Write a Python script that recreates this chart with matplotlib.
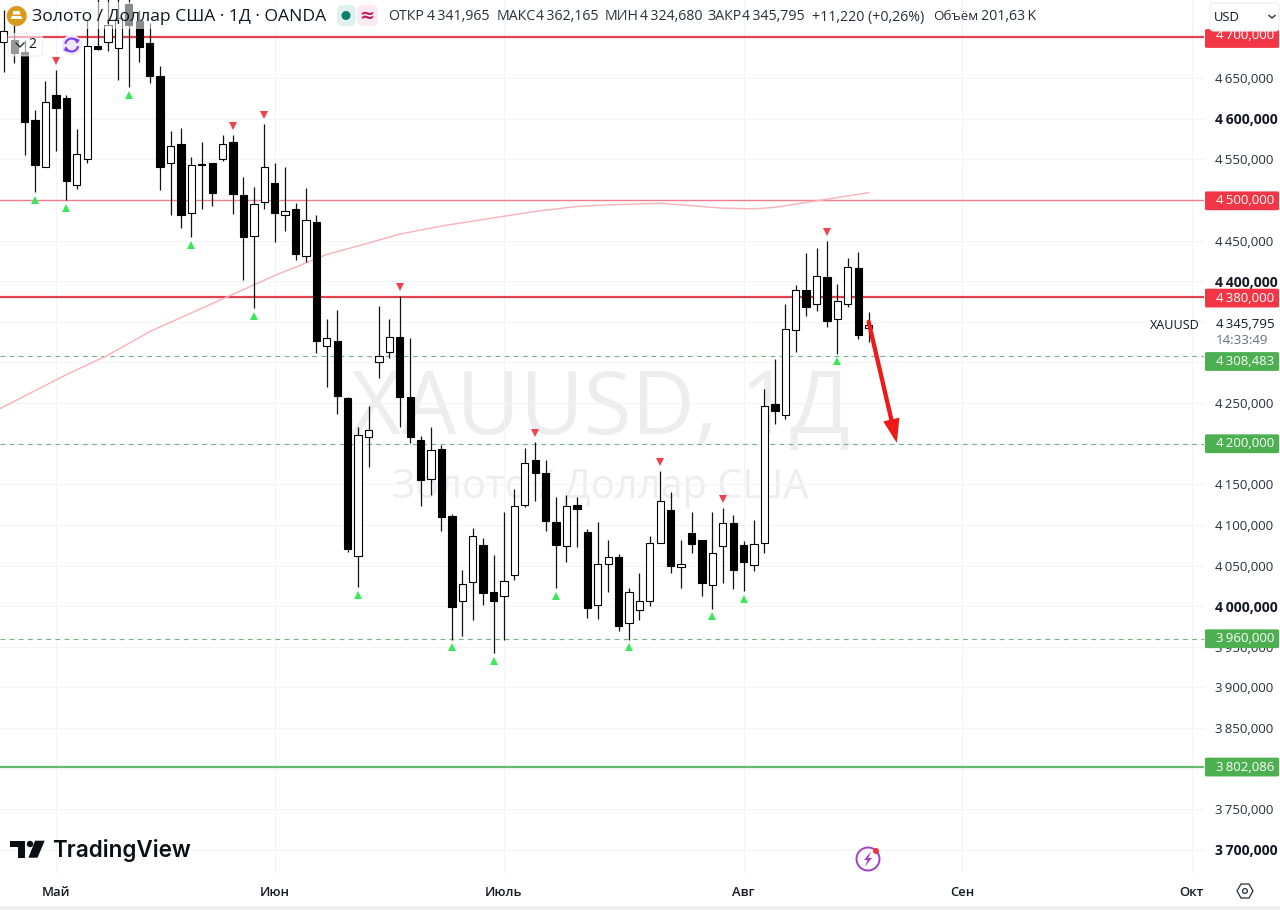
import matplotlib
matplotlib.use("Agg")
import matplotlib.pyplot as plt
from matplotlib.patches import Rectangle, FancyBboxPatch, Circle, Polygon, Arc, FancyArrowPatch
from matplotlib.transforms import ScaledTranslation

plt.rcParams['font.family'] = ['Open Sans', 'Noto Sans', 'DejaVu Sans']
plt.rcParams['lines.scale_dashes'] = False

# ---------- data ----------
opens = [4695,4697,4682,4598,4540,4629,4625,4519,4551,4689,4694,4687,4741,4720,4693,4653,4545,4569,4484,4544,
         4545,4550,4571,4506,4456,4497,4521,4482,4489,4431,4473,4320,4327,4256,4062,4208,4301,4313,4331,4257,
         4204,4156,4193,4111,4006,4030,4075,4018,4013,4039,4124,4180,4164,4104,4074,4125,4091,4001,4052,4061,
         3979,3995,4007,4078,4119,4048,4090,4081,4026,4074,4103,4075,4051,4078,4249,4235,4340,4389,4372,4405,
         4353,4372,4416,4341.965]
highs = [4734,4715,4697,4611,4647,4660,4629,4587,4722,4752,4752,4752,4752,4734,4718,4665,4585,4588,4553,4571,
         4545,4580,4580,4528,4516,4594,4546,4541,4496,4515,4482,4353,4364,4257,4220,4246,4370,4354,4382,4330,
         4210,4221,4199,4114,4044,4096,4084,4063,4116,4144,4195,4202,4180,4134,4137,4135,4095,4104,4082,4064,
         4023,4041,4087,4166,4141,4082,4116,4082,4116,4121,4112,4080,4106,4267,4304,4372,4395,4435,4441,4450,
         4396,4428,4436,4362.165]
lows = [4658,4669,4555,4510,4540,4560,4500,4513,4546,4685,4683,4648,4639,4670,4644,4512,4481,4465,4454,4489,
        4492,4548,4483,4402,4367,4489,4448,4462,4426,4424,4312,4270,4236,4067,4024,4171,4281,4306,4220,4201,
        4123,4137,4092,3959,3963,3983,4001,3942,3959,4032,4122,4129,4093,4022,4054,4073,3986,3984,4018,3970,
        3959,3983,4000,4078,4041,4022,4065,4012,3997,4029,4021,4019,4043,4065,4224,4230,4313,4357,4363,4344,
        4311,4368,4329,4324.680]
closes = [4708,4681,4596,4543,4621,4613,4523,4557,4690,4686,4715,4724,4715,4688,4652,4540,4566,4481,4543,4543,
          4509,4569,4507,4455,4495,4540,4484,4487,4433,4475,4327,4330,4259,4071,4211,4217,4308,4331,4257,4208,
          4155,4192,4110,3999,4027,4087,4016,4007,4031,4123,4176,4164,4105,4075,4123,4120,3998,4052,4060,3976,
          4017,4007,4078,4129,4049,4052,4076,4028,4066,4103,4044,4055,4076,4247,4240,4341,4389,4368,4407,4351,
          4376,4417,4334,4345.795]

ma_bars = [-1,6,10,14,22,26,31,35,38,42,48,51,55,58,63,66,69,72,74,78,83]
ma_vals = [4239,4285,4309,4338,4384,4407,4433,4447,4458,4468,4480,4486,4492,4494,4496,4493,4490,4489,4491,4499,4509]

pivot_low_bars = [3,6,12,18,24,34,43,47,53,60,68,71,80]
pivot_high_bars = [5,22,25,38,51,63,69,79]

arrow_from = (83, 4350)
arrow_to = (85.7, 4201)

price_ticks = list(range(3700, 4701, 50))
bold_ticks = [4600, 4400, 4000, 3700]
hidden_ticks = [4700, 4500, 4350, 4300, 4200, 3800]
month_bars = [5, 26, 48, 71, 92, 114]
month_labels = ['Май', 'Июн', 'Июль', 'Авг', 'Сен', 'Окт']

red_levels = [4700, 4500, 4380]
green_levels = [4308.483, 4200, 3960, 3802.086]

# ---------- layout ----------
W, H = 1280, 910
STEP = 10.42
X0 = 3.8
PLOT_R, PLOT_B = 1204, 873
PX_PER_UNIT = 0.8125
Y4700 = 37.5
RED, GREEN = '#f23645', '#4caf50'
TXT = '#131722'

def py(price):
    return Y4700 + (4700 - price) * PX_PER_UNIT

fig = plt.figure(figsize=(W / 100, H / 100), dpi=100, facecolor='white')
ax = fig.add_axes([0, 1 - PLOT_B / H, PLOT_R / W, PLOT_B / H], facecolor='white')
ui = fig.add_axes([0, 0, 1, 1], facecolor='none', zorder=10)
ui.set_xlim(0, W); ui.set_ylim(H, 0); ui.axis('off')

ax.set_xlim(-X0 / STEP, (PLOT_R - X0) / STEP)
ax.set_ylim(4700 - (PLOT_B - Y4700) / PX_PER_UNIT, 4700 + Y4700 / PX_PER_UNIT)
for s in ax.spines.values():
    s.set_visible(False)

# axes, ticks, grid
ax.yaxis.tick_right()
ax.set_yticks(price_ticks)
ax.set_yticklabels(['' if v in hidden_ticks else f"{v // 1000}\u2009{v % 1000:03d},000" for v in price_ticks])
for v, lab in zip(price_ticks, ax.get_yticklabels()):
    lab.set_fontsize(10.0 if v in bold_ticks else 9.5)
    lab.set_color(TXT if v in bold_ticks else '#2a2e39')
    lab.set_fontweight('bold' if v in bold_ticks else 'normal')
ax.tick_params(axis='y', length=0, pad=7.9)
ax.set_xticks(month_bars)
ax.set_xticklabels(month_labels, fontsize=9.4, fontweight='semibold', color=TXT)
ax.tick_params(axis='x', length=0, pad=9.4)
ax.grid(True, color='#f3f4f7', lw=0.8, zorder=0)
ax.set_axisbelow(True)

# watermark
ax.text(600, 434, 'XAUUSD, 1Д', transform=ui.transData, ha='center', va='baseline',
        fontsize=62.8, color='#ededf0', zorder=0.5)
ax.text(600, 498, 'Золото / Доллар США', transform=ui.transData, ha='center', va='baseline',
        fontsize=28.6, color='#ededf0', zorder=0.5)

# levels
ax.axhline(red_levels[0], color='#e5404f', lw=1.6, zorder=1.5)
ax.axhline(red_levels[1], color='#ef7f8a', lw=1.0, zorder=1.5)
ax.axhline(red_levels[2], color='#e5404f', lw=1.6, zorder=1.5)
for lev in green_levels[:3]:
    ax.axhline(lev, color='#6fb580', lw=0.8, ls=(0, (3.4, 3.2)), zorder=1.5)
ax.axhline(green_levels[3], color='#66bb6a', lw=1.6, zorder=1.5)

# moving average
ax.plot(ma_bars, ma_vals, color='#f7b4ba', lw=1.05, zorder=2)

# candles
idx = list(range(len(opens)))
ax.vlines(idx, lows, highs, color='#111111', lw=0.9, zorder=3)
ax.bar(idx, [abs(c - o) for o, c in zip(opens, closes)],
       bottom=[min(o, c) for o, c in zip(opens, closes)], width=0.70,
       color=['white' if c >= o else 'black' for o, c in zip(opens, closes)],
       edgecolor='black', linewidth=0.8, zorder=4)

# pivots
down_shift = ax.transData + ScaledTranslation(0, -0.078, fig.dpi_scale_trans)
up_shift = ax.transData + ScaledTranslation(0, 0.09, fig.dpi_scale_trans)
ax.plot(pivot_low_bars, [lows[i] for i in pivot_low_bars], '^', color='#3ce85a', ms=6.0, mew=0,
        transform=down_shift, zorder=5, clip_on=False)
ax.plot(pivot_high_bars, [highs[i] for i in pivot_high_bars], 'v', color='#f0414f', ms=6.0, mew=0,
        transform=up_shift, zorder=5, clip_on=False)

# arrow
ax.add_patch(FancyArrowPatch(arrow_from, arrow_to, arrowstyle='-|>,head_length=0.55,head_width=0.19',
                             mutation_scale=20, color='#ee1a1a', lw=3.1, shrinkA=0, shrinkB=0,
                             zorder=6, joinstyle='miter'))

# ---------- chrome, in pixels ----------
ui.add_patch(Rectangle((30, 2), 300, 27, fc='white', ec='none', alpha=0.55, zorder=1))
ui.add_patch(Circle((16.7, 16), 10, fc='#d99a1b', ec='none', zorder=2))
for pts in ([(12, 16), (21, 16), (22.5, 19), (10.5, 19)], [(13.5, 11), (19.5, 11), (20.5, 14.5), (12.5, 14.5)]):
    ui.add_patch(Polygon(pts, fc='white', ec='none', zorder=3))
ui.text(32, 17, 'Золото / Доллар США · 1Д · OANDA', fontsize=12.6, color=TXT, va='center', ha='left', zorder=3)

ui.add_patch(FancyBboxPatch((337, 5), 19, 21, boxstyle='round,pad=0,rounding_size=6', fc='#dff1ed', ec='none', zorder=2))
ui.add_patch(FancyBboxPatch((357, 5), 21, 21, boxstyle='round,pad=0,rounding_size=6', fc='#fbeaf0', ec='none', zorder=2))
ui.add_patch(Circle((346, 15.5), 4.5, fc='#0b7d6c', ec='none', zorder=3))
ui.text(367, 15.5, '≈', fontsize=13, color='#c2185b', fontweight='bold', ha='center', va='center',
        family=['DejaVu Sans'], zorder=3)

for x, s in [(388, 'ОТКР'), (427, '4\u2009341,965'), (497, 'МАКС'), (536, '4\u2009362,165'),
             (605, 'МИН'), (640, '4\u2009324,680'), (707, 'ЗАКР'), (742, '4\u2009345,795'),
             (812, '+11,220 (+0,26%)')]:
    ui.text(x, 17, s, fontsize=10.2, color='#2a2e39', va='center', ha='left', zorder=3)
ui.text(933, 17, 'Объём', fontsize=9.6, color='#2a2e39', va='center', ha='left', zorder=3)
ui.text(981, 17, '201,63\u2009K', fontsize=10.2, color='#2a2e39', va='center', ha='left', zorder=3)

# legend toggle + sync icon
ui.add_patch(FancyBboxPatch((8, 33.5), 34.5, 22.5, boxstyle='round,pad=0,rounding_size=3',
                            fc='white', ec='#e6e7ea', lw=0.8, alpha=0.6, zorder=2))
ui.plot([16, 20, 24], [43, 47, 43], color='#2a2e39', lw=1.0, zorder=3)
ui.text(32.5, 45, '2', fontsize=10, color=TXT, ha='center', va='center', zorder=3)
ui.add_patch(Circle((71.7, 45), 10, fc='#efe7fb', ec='none', zorder=2))
ui.add_patch(Arc((71.7, 45), 13, 13, theta1=190, theta2=340, color='#7c3cf0', lw=1.5, zorder=3))
ui.add_patch(Arc((71.7, 45), 13, 13, theta1=10, theta2=160, color='#7c3cf0', lw=1.5, zorder=3))
ui.add_patch(Polygon([(75, 38), (80, 40), (76, 43)], fc='#7c3cf0', ec='none', zorder=3))
ui.add_patch(Polygon([(68, 52), (63, 50), (67, 47)], fc='#7c3cf0', ec='none', zorder=3))

# price labels
def price_box(yc, s, color, text_shift=0.2):
    ui.add_patch(FancyBboxPatch((1205, yc - 9.4), 74, 18.8, boxstyle='round,pad=0,rounding_size=1.5',
                                fc=color, ec='none', zorder=3))
    ui.text(1215.5, yc + text_shift, s, fontsize=9.5, color='white', va='center', ha='left', zorder=3.1)

price_box(38.5, '4\u2009700,000', RED, text_shift=-3.2)
price_box(py(4500) + 0.8, '4\u2009500,000', RED)
price_box(py(4380) + 0.6, '4\u2009380,000', RED)
price_box(361.5, '4\u2009308,483', GREEN)
price_box(py(4200), '4\u2009200,000', GREEN)
price_box(py(3960), '3\u2009960,000', GREEN)
price_box(py(3802.086), '3\u2009802,086', GREEN)

ui.add_patch(FancyBboxPatch((1210, 3), 69, 28, boxstyle='round,pad=0,rounding_size=4',
                            fc='white', ec='#eeeeee', lw=0.8, zorder=5))
ui.text(1214, 17.5, 'USD', fontsize=9.4, color=TXT, va='center', ha='left', zorder=6)
ui.plot([1269, 1272, 1275], [15.5, 18, 15.5], color='#2a2e39', lw=1.0, zorder=6)

ui.text(1150, 325.5, 'XAUUSD', fontsize=9.1, color=TXT, va='center', ha='left', zorder=3)
ui.text(1215.5, 325, '4\u2009345,795', fontsize=9.5, color=TXT, va='center', ha='left', zorder=3)
ui.text(1216, 341, '14:33:49', fontsize=9.6, color='#6a6d78', va='center', ha='left', zorder=3)

# TradingView logo
ui.add_patch(Polygon([(10, 840.7), (25, 840.7), (25, 857.7), (17.5, 857.7), (17.5, 847), (10, 847)],
                     fc='#0c0e14', ec='none', zorder=3))
ui.add_patch(Circle((30, 844), 3.2, fc='#0c0e14', ec='none', zorder=3))
ui.add_patch(Polygon([(35, 840.7), (44.7, 840.7), (37.5, 857.7), (28.5, 857.7)], fc='#0c0e14', ec='none', zorder=3))
ui.text(52, 857, 'TradingView', fontsize=16.2, fontweight='semibold', color='#0c0e14', va='baseline', ha='left',
        family=['Inter', 'DejaVu Sans'], zorder=3)

# bolt icon
ui.add_patch(Circle((868, 859), 11.5, fc='white', ec='#a340c8', lw=1.4, zorder=3))
ui.add_patch(Polygon([(871, 851.5), (864, 860), (867.5, 860), (865, 866.5), (872, 858), (868.5, 858)],
                     fc='#a340c8', ec='none', zorder=4))
ui.add_patch(Circle((876, 851), 3, fc='#f0303a', ec='none', zorder=5))

# settings icon
ui.add_patch(Polygon([(1237, 891), (1241, 884), (1249, 884), (1253, 891), (1249, 898), (1241, 898)],
                     fc='white', ec='#2a2e39', lw=0.9, zorder=3))
ui.add_patch(Circle((1245, 891), 2.4, fc='white', ec='#2a2e39', lw=0.9, zorder=4))

# bottom edge
ui.add_patch(Rectangle((0, 905.5), W, 4.5, fc='#f1f1f2', ec='none', zorder=1))

fig.savefig('out.png', dpi=100, facecolor='white')
